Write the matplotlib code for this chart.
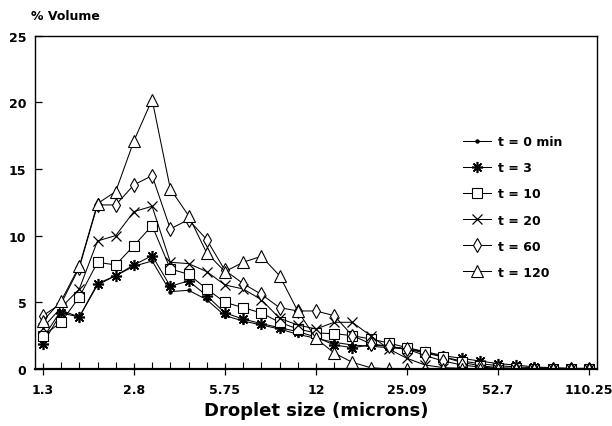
import matplotlib
matplotlib.use("Agg")
import matplotlib.pyplot as plt
import numpy as np

tick_labels = ["1.3", "2.8", "5.75", "12", "25.09", "52.7", "110.25"]
n_bins = 31

t0 = [2.3, 4.4, 3.9, 6.3, 7.0, 7.7, 8.1, 5.8, 5.9, 5.2, 4.0, 3.6, 3.3, 3.0, 2.6, 2.3, 2.0, 1.8,
      1.7, 1.6, 1.5, 1.2, 0.9, 0.6, 0.4, 0.25, 0.15, 0.1, 0.05, 0.03, 0.02]
t3 = [1.9, 4.2, 3.9, 6.4, 7.0, 7.8, 8.5, 6.2, 6.6, 5.5, 4.2, 3.75, 3.4, 3.1, 2.8, 2.4, 1.8, 1.6,
      1.8, 1.7, 1.5, 1.3, 1.0, 0.8, 0.6, 0.4, 0.3, 0.15, 0.1, 0.05, 0.05]
t10 = [2.5, 3.5, 5.4, 8.0, 7.8, 9.25, 10.75, 7.5, 7.1, 6.0, 5.0, 4.6, 4.2, 3.5, 3.0, 2.7, 2.65, 2.5,
       2.25, 1.95, 1.6, 1.3, 0.9, 0.5, 0.25, 0.1, 0.05, 0.03, 0.02, 0.01, 0.0]
t20 = [3.1, 4.6, 6.0, 9.6, 10.0, 11.8, 12.2, 8.0, 7.9, 7.3, 6.3, 6.0, 5.2, 3.8, 3.3, 3.0, 3.5, 3.5,
       2.5, 1.5, 0.8, 0.3, 0.1, 0.05, 0.0, 0.0, 0.0, 0.0, 0.0, 0.0, 0.0]
t60 = [4.0, 4.9, 7.6, 12.3, 12.3, 13.8, 14.5, 10.5, 11.2, 9.7, 7.4, 6.4, 5.6, 4.6, 4.35, 4.35, 4.0, 2.5,
       1.9, 1.7, 1.5, 1.0, 0.6, 0.3, 0.15, 0.05, 0.0, 0.0, 0.0, 0.0, 0.0]
t120 = [3.6, 5.1, 7.7, 12.4, 13.3, 17.1, 20.2, 13.5, 11.5, 8.7, 7.3, 8.0, 8.45, 7.0, 4.35, 2.3, 1.2, 0.5,
        0.1, 0.0, 0.0, 0.0, 0.0, 0.0, 0.0, 0.0, 0.0, 0.0, 0.0, 0.0, 0.0]

series = [
    ("t = 0 min", t0, dict(marker='o', markersize=2.2, markerfacecolor='black')),
    ("t = 3", t3, dict(marker=(8, 2, 0), markersize=8, markeredgewidth=1.2)),
    ("t = 10", t10, dict(marker='s', markersize=6.5, markerfacecolor='white', markeredgewidth=0.8)),
    ("t = 20", t20, dict(marker='x', markersize=6.5, markeredgewidth=0.9)),
    ("t = 60", t60, dict(marker='d', markersize=7.5, markerfacecolor='white', markeredgewidth=0.8)),
    ("t = 120", t120, dict(marker='^', markersize=8, markerfacecolor='white', markeredgewidth=0.8)),
]

fig = plt.figure(figsize=(6.12, 4.27), dpi=100)
ax = fig.add_axes([0.057, 0.1335, 0.9185, 0.781])

x = np.arange(n_bins)
for label, vals, style in series:
    ax.plot(x, vals, color='black', linewidth=0.75, label=label, **style)

ax.set_xlim(-0.44, n_bins - 1 + 0.44)
ax.set_ylim(0, 25)
ax.set_xticks(np.arange(0, n_bins, 5))
ax.set_xticklabels(tick_labels, fontsize=9, fontweight='bold')
ax.set_xticks(x, minor=True)
ax.set_yticks([0, 5, 10, 15, 20, 25])
ax.set_yticklabels(["0", "5", "10", "15", "20", "25"], fontsize=9, fontweight='bold')
ax.tick_params(axis='x', which='major', direction='inout', length=8, width=0.9, pad=6)
ax.tick_params(axis='x', which='minor', direction='in', length=5, width=0.8)
ax.tick_params(axis='y', which='major', direction='in', length=5, width=0.9, pad=6)
for s in ax.spines.values():
    s.set_linewidth(1.0)
ax.spines['bottom'].set_linewidth(1.6)

ax.set_xlabel("Droplet size (microns)", fontsize=13, fontweight='bold', labelpad=4)
fig.text(0.05, 0.945, "% Volume", fontsize=9, fontweight='bold', ha='left', va='bottom')

leg = ax.legend(loc='upper left', bbox_to_anchor=(0.742, 0.735), frameon=False,
                prop={'size': 9, 'weight': 'bold'}, handlelength=2.2, labelspacing=1.05,
                handletextpad=0.6)

fig.savefig("out.png", dpi=100)
